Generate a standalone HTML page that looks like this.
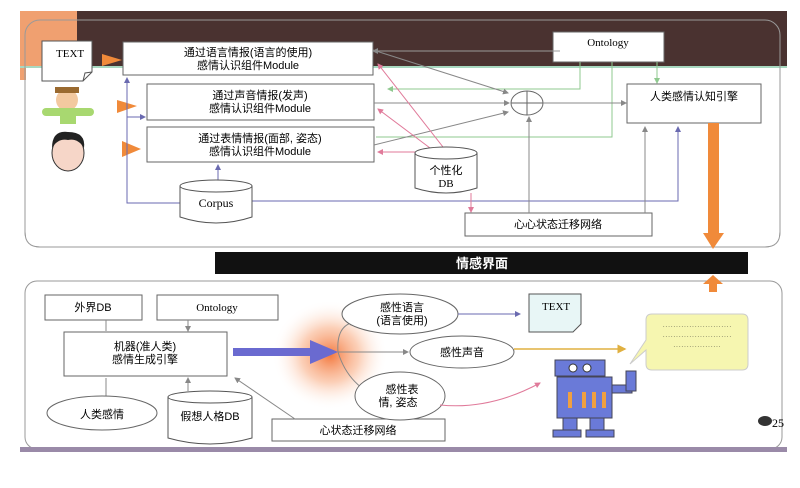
<!DOCTYPE html>
<html><head><meta charset="utf-8"><style>
html,body{margin:0;padding:0;background:#fff;}
svg{display:block;font-family:"Liberation Sans","Noto Sans CJK SC",sans-serif;}
.t{font-family:"Liberation Serif","Noto Serif CJK SC",serif;}
</style></head><body>
<svg width="800" height="488" viewBox="0 0 800 488" xmlns="http://www.w3.org/2000/svg">
<defs>
<marker id="ag" markerWidth="6" markerHeight="6" refX="5" refY="3" orient="auto"><path d="M0,0 L6,3 L0,6z" fill="#888"/></marker>
<marker id="ab" markerWidth="6" markerHeight="6" refX="5" refY="3" orient="auto"><path d="M0,0 L6,3 L0,6z" fill="#6a6ab0"/></marker>
<marker id="ap" markerWidth="6" markerHeight="6" refX="5" refY="3" orient="auto"><path d="M0,0 L6,3 L0,6z" fill="#e07a9a"/></marker>
<marker id="agr" markerWidth="6" markerHeight="6" refX="5" refY="3" orient="auto"><path d="M0,0 L6,3 L0,6z" fill="#8fc98f"/></marker>
<marker id="ay" markerWidth="6" markerHeight="6" refX="5" refY="3" orient="auto"><path d="M0,0 L6,3 L0,6z" fill="#e0b040"/></marker>
<radialGradient id="glow"><stop offset="0" stop-color="#f26a2a" stop-opacity="0.9"/><stop offset="0.5" stop-color="#f8a070" stop-opacity="0.5"/><stop offset="1" stop-color="#fff" stop-opacity="0"/></radialGradient>
</defs>
<rect width="800" height="488" fill="#fff"/>
<rect x="20" y="11" width="767" height="56" fill="#4a3230"/>
<rect x="20" y="11" width="57" height="69" fill="#f0a070"/>
<rect x="20" y="66" width="767" height="2" fill="#a8d8c0"/>
<rect x="25" y="20" width="755" height="227" rx="15" fill="none" stroke="#999" stroke-width="1"/>
<rect x="26" y="68" width="753" height="178" fill="#fff"/>
<path d="M25,68 V232 Q25,247 40,247 H765 Q780,247 780,232 V68" fill="none" stroke="#999"/>
<path d="M42,41 H92 V72 L83,81 H42Z" fill="#fff" stroke="#555"/><path d="M83,81 L85,73 L92,72" fill="none" stroke="#555"/>
<text x="56" y="57" font-size="11" class="t">TEXT</text>
<circle cx="67" cy="100" r="11" fill="#f3c9a0"/><rect x="55" y="87" width="24" height="6" fill="#9a6a30"/>
<rect x="42" y="108" width="52" height="8" rx="4" fill="#a8d870"/><rect x="60" y="110" width="16" height="14" fill="#a8d870"/>
<ellipse cx="68" cy="153" rx="16" ry="18" fill="#f6d6c8" stroke="#333"/><path d="M52,148 Q52,130 68,132 Q86,132 84,148 Q78,138 68,140 Q58,138 52,148Z" fill="#222"/>
<path d="M102,54 L122,60 L102,66Z" fill="#f08a3a"/>
<path d="M117,100 L137,106 L117,113Z" fill="#f08a3a"/>
<path d="M122,141 L141,149 L122,157Z" fill="#f08a3a"/>
<rect x="123" y="42" width="250" height="33" fill="#fff" stroke="#666"/>
<text x="248" y="56" font-size="11" text-anchor="middle">通过语言情报(语言的使用)</text>
<text x="248" y="69" font-size="11" text-anchor="middle">感情认识组件Module</text>
<rect x="147" y="84" width="227" height="36" fill="#fff" stroke="#666"/>
<text x="260" y="99" font-size="11" text-anchor="middle">通过声音情报(发声)</text>
<text x="260" y="112" font-size="11" text-anchor="middle">感情认识组件Module</text>
<rect x="147" y="127" width="227" height="35" fill="#fff" stroke="#666"/>
<text x="260" y="142" font-size="11" text-anchor="middle">通过表情情报(面部, 姿态)</text>
<text x="260" y="155" font-size="11" text-anchor="middle">感情认识组件Module</text>
<path d="M218,180 V165" stroke="#6a6ab0" fill="none" marker-end="url(#ab)"/>
<path d="M180,203 H127 V78" stroke="#6a6ab0" fill="none" marker-end="url(#ab)"/>
<path d="M127,117 H145" stroke="#6a6ab0" fill="none" marker-end="url(#ab)"/>
<path d="M252,201 H678 V127" stroke="#6a6ab0" fill="none" marker-end="url(#ab)"/>
<path d="M180,186 V217 Q216,229 252,217 V186" fill="#fff" stroke="#555"/>
<ellipse cx="216" cy="186" rx="36" ry="6" fill="#fff" stroke="#555"/>
<text x="216" y="207" font-size="12" text-anchor="middle" class="t">Corpus</text>
<rect x="553" y="32" width="111" height="30" fill="#fff" stroke="#666"/>
<text x="608" y="46" font-size="11" text-anchor="middle" class="t">Ontology</text>
<path d="M553,51 H373" stroke="#8fc98f" fill="none"/>
<path d="M580,62 V89 H388" stroke="#8fc98f" fill="none" marker-end="url(#agr)"/>
<path d="M612,62 V137 H376" stroke="#8fc98f" fill="none"/>
<path d="M657,62 V83" stroke="#8fc98f" fill="none" marker-end="url(#agr)"/>
<path d="M560,51 H373" stroke="#999" fill="none" marker-end="url(#ag)"/>
<path d="M373,50 L508,93" stroke="#888" fill="none" marker-end="url(#ag)"/>
<path d="M374,103 H509" stroke="#888" fill="none" marker-end="url(#ag)"/>
<path d="M374,145 L508,112" stroke="#888" fill="none" marker-end="url(#ag)"/>
<ellipse cx="527" cy="103" rx="16" ry="12" fill="#fff" stroke="#666"/>
<path d="M511,103 H543 M527,91 V115" stroke="#666"/>
<path d="M543,103 H626" stroke="#888" fill="none" marker-end="url(#ag)"/>
<path d="M443,147 L378,64" stroke="#e07a9a" fill="none" marker-end="url(#ap)"/>
<path d="M430,148 L378,109" stroke="#e07a9a" fill="none" marker-end="url(#ap)"/>
<path d="M422,152 L378,152" stroke="#e07a9a" fill="none" marker-end="url(#ap)"/>
<path d="M415,153 V188 Q446,198 477,188 V153" fill="#fff" stroke="#555"/>
<ellipse cx="446" cy="153" rx="31" ry="6" fill="#fff" stroke="#555"/>
<text x="446" y="174" font-size="11" text-anchor="middle">个性化</text>
<text x="446" y="187" font-size="11" text-anchor="middle" class="t">DB</text>
<path d="M471,193 V212" stroke="#e07a9a" fill="none" marker-end="url(#ap)"/>
<rect x="627" y="84" width="134" height="39" fill="#fff" stroke="#666"/>
<text x="694" y="100" font-size="11" text-anchor="middle">人类感情认知引擎</text>
<rect x="465" y="213" width="187" height="23" fill="#fff" stroke="#666"/>
<text x="558" y="228" font-size="11" text-anchor="middle">心心状态迁移网络</text>
<path d="M529,213 V117" stroke="#888" fill="none" marker-end="url(#ag)"/>
<path d="M645,213 V127" stroke="#888" fill="none" marker-end="url(#ag)"/>
<rect x="708" y="123" width="11" height="110" fill="#f08a3a"/>
<path d="M703,233 L724,233 L713,249Z" fill="#f08a3a"/>
<rect x="215" y="252" width="533" height="22" fill="#111"/>
<text x="482" y="268" font-size="13" fill="#fff" font-weight="bold" text-anchor="middle">情感界面</text>
<rect x="25" y="281" width="757" height="168" rx="12" fill="#fff" stroke="#999"/>
<rect x="20" y="447" width="767" height="5" fill="#9a8aa8"/>
<path d="M703,284 L713,275 L723,284Z" fill="#f08a3a"/><rect x="709" y="284" width="8" height="8" fill="#f08a3a"/>
<rect x="45" y="295" width="97" height="25" fill="#fff" stroke="#666"/>
<text x="93" y="311" font-size="11" text-anchor="middle">外界DB</text>
<rect x="157" y="295" width="121" height="25" fill="#fff" stroke="#666"/>
<text x="217" y="311" font-size="11" text-anchor="middle" class="t">Ontology</text>
<path d="M106,320 V331 M188,320 V331" stroke="#888" marker-end="url(#ag)"/>
<rect x="64" y="332" width="163" height="44" fill="#fff" stroke="#666"/>
<text x="145" y="350" font-size="11" text-anchor="middle">机器(准人类)</text>
<text x="145" y="363" font-size="11" text-anchor="middle">感情生成引擎</text>
<path d="M106,396 V378 M188,391 V378" stroke="#888" marker-end="url(#ag)"/>
<ellipse cx="102" cy="413" rx="55" ry="17" fill="#fff" stroke="#666"/>
<text x="102" y="418" font-size="11" text-anchor="middle">人类感情</text>
<path d="M168,397 V438 Q210,450 252,438 V397" fill="#fff" stroke="#555"/>
<ellipse cx="210" cy="397" rx="42" ry="6" fill="#fff" stroke="#555"/>
<text x="210" y="420" font-size="11" text-anchor="middle">假想人格DB</text>
<rect x="272" y="419" width="173" height="22" fill="#fff" stroke="#666"/>
<text x="358" y="434" font-size="11" text-anchor="middle">心状态迁移网络</text>
<path d="M295,419 L235,378" stroke="#888" fill="none" marker-end="url(#ag)"/>
<ellipse cx="330" cy="355" rx="58" ry="55" fill="url(#glow)"/>
<rect x="233" y="348" width="80" height="8" fill="#6a6ad0"/>
<path d="M310,340 L338,352 L310,364Z" fill="#6a6ad0"/>
<path d="M338,352 Q336,325 355,322" stroke="#888" fill="none" marker-end="url(#ag)"/>
<path d="M338,352 H408" stroke="#888" fill="none" marker-end="url(#ag)"/>
<path d="M338,352 Q345,375 362,388" stroke="#888" fill="none"/>
<ellipse cx="400" cy="314" rx="58" ry="20" fill="#fff" stroke="#666"/>
<text x="402" y="311" font-size="11" text-anchor="middle">感性语言</text>
<text x="402" y="324" font-size="11" text-anchor="middle">(语言使用)</text>
<ellipse cx="462" cy="352" rx="52" ry="16" fill="#fff" stroke="#666"/>
<text x="462" y="356" font-size="11" text-anchor="middle">感性声音</text>
<ellipse cx="400" cy="396" rx="45" ry="24" fill="#fff" stroke="#666"/>
<text x="402" y="393" font-size="11" text-anchor="middle">感性表</text>
<text x="398" y="406" font-size="11" text-anchor="middle">情, 姿态</text>
<path d="M458,314 H520" stroke="#6a6ab0" fill="none" marker-end="url(#ab)"/>
<path d="M514,349 H625" stroke="#e0b040" stroke-width="1.5" fill="none" marker-end="url(#ay)"/>
<path d="M440,405 Q490,410 540,383" stroke="#e07a9a" fill="none" marker-end="url(#ap)"/>
<path d="M529,294 H581 V324 L573,332 H529Z" fill="#e8f6f6" stroke="#555"/>
<text x="542" y="310" font-size="11" class="t">TEXT</text>
<path d="M652,314 H742 Q748,314 748,320 V364 Q748,370 742,370 H652 Q646,370 646,364 V350 L630,364 L646,340 V320 Q646,314 652,314Z" fill="#f6f6b0" stroke="#ccc"/>
<text x="697" y="329" font-size="8" text-anchor="middle" fill="#886">··························</text>
<text x="697" y="339" font-size="8" text-anchor="middle" fill="#886">··························</text>
<text x="697" y="349" font-size="8" text-anchor="middle" fill="#886">··················</text>
<g fill="#6a7ad8" stroke="#445">
<rect x="555" y="360" width="50" height="16"/>
<rect x="557" y="377" width="55" height="41"/>
<rect x="612" y="385" width="20" height="8"/>
<rect x="626" y="371" width="10" height="20"/>
<rect x="563" y="418" width="14" height="14"/><rect x="590" y="418" width="14" height="14"/>
<rect x="553" y="430" width="28" height="7"/><rect x="586" y="430" width="28" height="7"/>
</g>
<circle cx="573" cy="368" r="4" fill="#fff" stroke="#333"/><circle cx="587" cy="368" r="4" fill="#fff" stroke="#333"/>
<g fill="#f0a040"><rect x="568" y="392" width="4" height="16"/><rect x="582" y="392" width="4" height="16"/><rect x="592" y="392" width="4" height="16"/><rect x="602" y="392" width="4" height="16"/></g>
<ellipse cx="765" cy="421" rx="7" ry="5" fill="#333"/>
<text x="772" y="427" font-size="12" class="t">25</text>
</svg>
</body></html>
